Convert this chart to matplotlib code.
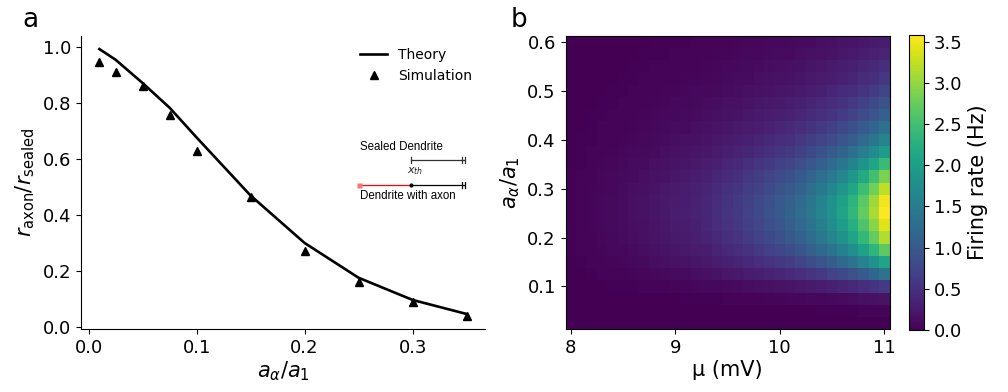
import numpy as np
import matplotlib
matplotlib.use('Agg')
import matplotlib.pyplot as plt

# ---------------- data: panel a ----------------
ratio_x = [0.01, 0.025, 0.05, 0.075, 0.1, 0.15, 0.2, 0.25, 0.3, 0.35]
theory_y = [0.992, 0.954, 0.871, 0.783, 0.677, 0.470, 0.301, 0.177, 0.098, 0.048]
sim_y = [0.945, 0.909, 0.862, 0.756, 0.630, 0.464, 0.273, 0.162, 0.089, 0.041]

# ---------------- data: panel b ----------------
mu_values = [8.0, 8.1, 8.2, 8.3, 8.4, 8.5, 8.6, 8.7, 8.8, 8.9, 9.0, 9.1, 9.2, 9.3, 9.4, 9.5,
             9.6, 9.7, 9.8, 9.9, 10.0, 10.1, 10.2, 10.3, 10.4, 10.5, 10.6, 10.7, 10.8, 10.9, 11.0]
# rows listed from top (0.6) to bottom (0.025)
a_values = [0.6, 0.575, 0.55, 0.525, 0.5, 0.475, 0.45, 0.425, 0.4, 0.375, 0.35, 0.325,
            0.3, 0.275, 0.25, 0.225, 0.2, 0.175, 0.15, 0.125, 0.1, 0.075, 0.05, 0.025]
rate = [
    [0.00,0.00,0.00,0.01,0.01,0.01,0.01,0.01,0.02,0.02,0.02,0.02,0.03,0.03,0.04,0.04,0.05,0.06,0.06,0.07,0.08,0.09,0.10,0.11,0.13,0.15,0.17,0.19,0.22,0.25,0.29],
    [0.00,0.00,0.01,0.01,0.01,0.01,0.01,0.02,0.02,0.02,0.03,0.03,0.03,0.04,0.05,0.05,0.06,0.07,0.08,0.09,0.10,0.11,0.13,0.14,0.16,0.18,0.21,0.24,0.27,0.31,0.36],
    [0.00,0.00,0.01,0.01,0.01,0.01,0.02,0.02,0.03,0.03,0.04,0.04,0.04,0.05,0.06,0.07,0.08,0.09,0.10,0.12,0.13,0.14,0.16,0.19,0.21,0.24,0.27,0.31,0.35,0.40,0.47],
    [0.00,0.01,0.01,0.01,0.01,0.02,0.02,0.03,0.03,0.04,0.04,0.05,0.05,0.06,0.08,0.09,0.10,0.11,0.13,0.14,0.16,0.18,0.20,0.23,0.26,0.29,0.33,0.38,0.44,0.50,0.57],
    [0.00,0.01,0.01,0.01,0.02,0.02,0.03,0.03,0.04,0.05,0.05,0.06,0.07,0.08,0.09,0.11,0.12,0.14,0.16,0.18,0.20,0.22,0.25,0.29,0.32,0.37,0.42,0.47,0.54,0.62,0.72],
    [0.01,0.01,0.01,0.02,0.02,0.03,0.04,0.04,0.05,0.06,0.07,0.08,0.09,0.10,0.12,0.14,0.15,0.18,0.20,0.23,0.25,0.28,0.31,0.36,0.40,0.46,0.52,0.59,0.68,0.78,0.90],
    [0.01,0.01,0.02,0.02,0.03,0.03,0.04,0.05,0.06,0.07,0.08,0.09,0.10,0.12,0.14,0.16,0.18,0.21,0.24,0.27,0.30,0.33,0.38,0.43,0.48,0.55,0.62,0.71,0.82,0.93,1.07],
    [0.01,0.01,0.02,0.03,0.03,0.04,0.05,0.06,0.07,0.09,0.10,0.11,0.13,0.14,0.17,0.20,0.23,0.26,0.29,0.33,0.37,0.41,0.46,0.53,0.60,0.68,0.77,0.87,1.01,1.15,1.32],
    [0.01,0.02,0.02,0.03,0.04,0.05,0.06,0.07,0.09,0.10,0.12,0.14,0.15,0.18,0.21,0.24,0.27,0.32,0.36,0.41,0.45,0.50,0.56,0.64,0.72,0.82,0.94,1.06,1.22,1.40,1.61],
    [0.01,0.02,0.03,0.04,0.05,0.06,0.08,0.09,0.11,0.13,0.15,0.17,0.19,0.21,0.26,0.30,0.34,0.39,0.43,0.50,0.55,0.61,0.69,0.79,0.89,1.01,1.14,1.30,1.50,1.71,1.97],
    [0.01,0.02,0.03,0.05,0.06,0.07,0.10,0.11,0.14,0.16,0.18,0.20,0.23,0.27,0.32,0.37,0.41,0.48,0.54,0.61,0.68,0.75,0.85,0.97,1.09,1.24,1.41,1.60,1.85,2.11,2.43],
    [0.02,0.03,0.04,0.06,0.07,0.09,0.11,0.13,0.16,0.18,0.22,0.24,0.27,0.31,0.38,0.43,0.49,0.56,0.63,0.72,0.80,0.89,1.00,1.14,1.29,1.46,1.66,1.89,2.18,2.49,2.86],
    [0.02,0.03,0.05,0.06,0.08,0.10,0.13,0.14,0.18,0.21,0.24,0.27,0.31,0.35,0.42,0.49,0.55,0.63,0.71,0.81,0.90,1.00,1.13,1.29,1.45,1.65,1.87,2.12,2.45,2.80,3.22],
    [0.02,0.03,0.05,0.07,0.09,0.11,0.14,0.16,0.20,0.23,0.26,0.29,0.33,0.38,0.46,0.53,0.60,0.69,0.77,0.88,0.98,1.09,1.23,1.40,1.58,1.79,2.04,2.31,2.67,3.05,3.51],
    [0.02,0.04,0.05,0.07,0.09,0.11,0.14,0.16,0.20,0.23,0.27,0.30,0.34,0.39,0.47,0.54,0.61,0.70,0.79,0.90,1.00,1.11,1.25,1.43,1.61,1.83,2.08,2.36,2.72,3.11,3.58],
    [0.02,0.03,0.05,0.07,0.09,0.10,0.13,0.15,0.19,0.22,0.26,0.29,0.32,0.37,0.45,0.51,0.58,0.67,0.75,0.86,0.95,1.05,1.19,1.36,1.53,1.74,1.98,2.24,2.58,2.95,3.40],
    [0.02,0.03,0.04,0.06,0.08,0.10,0.12,0.14,0.18,0.20,0.24,0.26,0.30,0.34,0.41,0.48,0.54,0.62,0.70,0.79,0.88,0.98,1.10,1.26,1.42,1.61,1.83,2.08,2.39,2.74,3.15],
    [0.02,0.03,0.04,0.05,0.07,0.08,0.11,0.12,0.15,0.17,0.20,0.23,0.26,0.29,0.35,0.41,0.46,0.53,0.59,0.68,0.75,0.83,0.94,1.07,1.21,1.37,1.56,1.77,2.04,2.33,2.69],
    [0.01,0.02,0.03,0.04,0.05,0.06,0.08,0.09,0.12,0.13,0.16,0.17,0.20,0.23,0.27,0.31,0.35,0.41,0.46,0.52,0.58,0.64,0.73,0.83,0.93,1.06,1.21,1.37,1.58,1.80,2.08],
    [0.01,0.01,0.02,0.03,0.03,0.04,0.05,0.06,0.08,0.09,0.10,0.11,0.13,0.15,0.18,0.21,0.23,0.27,0.30,0.34,0.38,0.42,0.48,0.54,0.61,0.70,0.79,0.90,1.03,1.18,1.36],
    [0.00,0.01,0.01,0.01,0.02,0.02,0.02,0.03,0.03,0.04,0.05,0.05,0.06,0.07,0.08,0.09,0.10,0.12,0.13,0.15,0.17,0.19,0.21,0.24,0.27,0.31,0.35,0.40,0.46,0.53,0.61],
    [0.00,0.00,0.00,0.00,0.00,0.01,0.01,0.01,0.01,0.01,0.01,0.02,0.02,0.02,0.02,0.03,0.03,0.04,0.04,0.05,0.05,0.06,0.06,0.07,0.08,0.09,0.10,0.12,0.14,0.16,0.18],
    [0.00,0.00,0.00,0.00,0.00,0.00,0.00,0.00,0.00,0.00,0.00,0.00,0.00,0.00,0.00,0.00,0.01,0.01,0.01,0.01,0.01,0.01,0.01,0.01,0.02,0.02,0.02,0.02,0.03,0.03,0.04],
    [0.00,0.00,0.00,0.00,0.00,0.00,0.00,0.00,0.00,0.00,0.00,0.00,0.00,0.00,0.00,0.00,0.00,0.00,0.00,0.00,0.00,0.00,0.00,0.00,0.00,0.00,0.00,0.00,0.00,0.00,0.00],
]

# ---------------- figure ----------------
W, H = 1008, 392
fig = plt.figure(figsize=(W / 100, H / 100), dpi=100)

TICK = 13
LAB = 15

# ---- panel a ----
ax1 = fig.add_axes([81 / W, 1 - 329.3 / H, (485 - 81) / W, (329.3 - 35.7) / H])
ax1.plot(ratio_x, theory_y, color='black', lw=1.9, label='Theory')
ax1.plot(ratio_x, sim_y, linestyle='none', marker='^', color='black', ms=6, label='Simulation')
ax1.spines['top'].set_visible(False)
ax1.spines['right'].set_visible(False)
ax1.set_xticks([0.0, 0.1, 0.2, 0.3])
ax1.set_yticks([0.0, 0.2, 0.4, 0.6, 0.8, 1.0])
ax1.tick_params(labelsize=TICK)
ax1.set_xlabel(r'$a_\alpha/a_1$', fontsize=LAB, labelpad=2)
ax1.set_ylabel(r'$r_\mathrm{axon}/r_\mathrm{sealed}$', fontsize=LAB, labelpad=4)
ax1.legend(loc='upper right', frameon=False, fontsize=10)

# schematic inset (decoration)
sx = fig.add_axes([350 / W, 1 - 205 / H, 120 / W, 70 / H])
sx.set_xlim(350, 470)
sx.set_ylim(205, 135)
sx.axis('off')
sx.text(360, 147, 'Sealed Dendrite', fontsize=8.3, family='Liberation Sans', va='center', ha='left')
sx.text(360, 196, 'Dendrite with axon', fontsize=8.3, family='Liberation Sans', va='center', ha='left')
sx.text(415, 171, r'$x_{th}$', fontsize=8, va='center', ha='center', color='#222222')
sx.plot([411, 463.5], [160, 160], color='#333333', lw=0.9)
sx.plot([411, 411], [157.3, 162.7], color='#333333', lw=0.9)
for xx in (462.3, 464.6):
    sx.plot([xx, xx], [157.3, 162.7], color='#333333', lw=0.9)
sx.plot([358, 411], [185, 185], color='red', lw=0.9)
sx.plot([358.5], [185], marker='s', ms=3.6, color='#f07878', mec='none')
sx.plot([411, 463.5], [185, 185], color='black', lw=0.9)
sx.plot([411], [185], marker='o', ms=3, color='black', mec='none')
for xx in (462.3, 464.6):
    sx.plot([xx, xx], [182.3, 187.7], color='black', lw=0.9)

# ---- panel b ----
ax2 = fig.add_axes([565.5 / W, 1 - 329.3 / H, 324 / W, (329.3 - 35.7) / H])
rate_arr = np.array(rate)[::-1]
a_arr = np.array(a_values)[::-1]
mesh = ax2.pcolormesh(mu_values, a_arr, rate_arr, shading='nearest', cmap='viridis')
ax2.set_xticks([8, 9, 10, 11])
ax2.set_yticks([0.1, 0.2, 0.3, 0.4, 0.5, 0.6])
ax2.tick_params(labelsize=TICK)
ax2.set_xlabel('μ (mV)', fontsize=LAB, labelpad=2)
ax2.set_ylabel(r'$a_\alpha/a_1$', fontsize=LAB, labelpad=4)

cax = fig.add_axes([909.3 / W, 1 - 330 / H, 15 / W, (330 - 35) / H])
cb = fig.colorbar(mesh, cax=cax)
cb.set_ticks([0.0, 0.5, 1.0, 1.5, 2.0, 2.5, 3.0, 3.5])
cb.ax.tick_params(labelsize=TICK)
cb.set_label('Firing rate (Hz)', fontsize=LAB)

fig.text(22 / W, 1 - 27 / H, 'a', fontsize=19, va='baseline', ha='left')
fig.text(511 / W, 1 - 27 / H, 'b', fontsize=19, va='baseline', ha='left')

fig.savefig('out.png', dpi=100)
